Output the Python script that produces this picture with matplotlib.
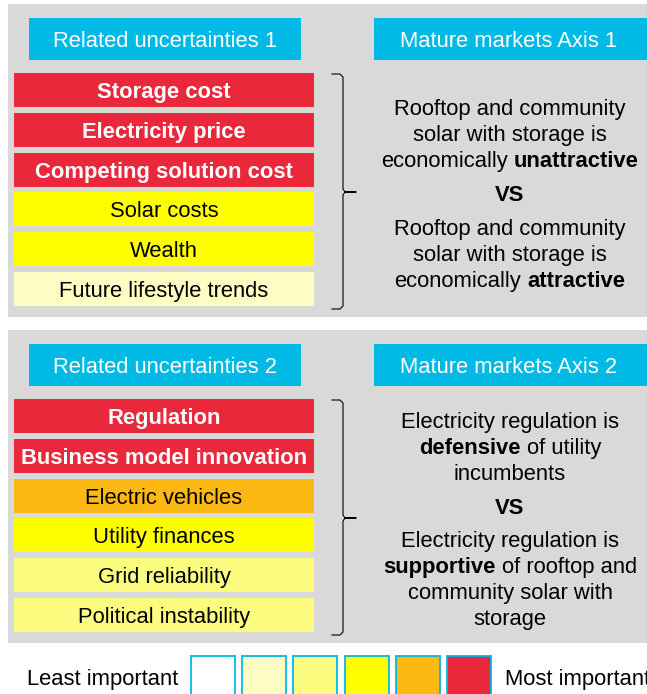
import matplotlib.pyplot as plt
from matplotlib.patches import Rectangle

plt.rcParams['font.family'] = ['Liberation Sans', 'DejaVu Sans']

W, H = 647, 694
FS = 15.8

# importance scale, least -> most
level_colors = ['#FFFFFF', '#FCFCC3', '#FCFC80', '#FFFF00', '#FDB913', '#E9283B']

left_headers = ['Related uncertainties 1', 'Related uncertainties 2']
right_headers = ['Mature markets Axis 1', 'Mature markets Axis 2']

uncert_1 = ['Storage cost', 'Electricity price', 'Competing solution cost',
            'Solar costs', 'Wealth', 'Future lifestyle trends']
importance_1 = [5, 5, 5, 3, 3, 1]

uncert_2 = ['Regulation', 'Business model innovation', 'Electric vehicles',
            'Utility finances', 'Grid reliability', 'Political instability']
importance_2 = [5, 5, 4, 3, 2, 2]

# each line = list of (text, bold) parts, a space goes between parts
axis_1_top = [[('Rooftop and community', False)],
              [('solar with storage is', False)],
              [('economically', False), ('unattractive', True)]]
axis_1_bottom = [[('Rooftop and community', False)],
                 [('solar with storage is', False)],
                 [('economically', False), ('attractive', True)]]
axis_2_top = [[('Electricity regulation is', False)],
              [('defensive', True), ('of utility', False)],
              [('incumbents', False)]]
axis_2_bottom = [[('Electricity regulation is', False)],
                 [('supportive', True), ('of rooftop and', False)],
                 [('community solar with', False)],
                 [('storage', False)]]

panels = [(uncert_1, importance_1, axis_1_top, axis_1_bottom),
          (uncert_2, importance_2, axis_2_top, axis_2_bottom)]
panel_tops = [4, 330]

fig = plt.figure(figsize=(W / 100, H / 100), dpi=100)
ax = fig.add_axes([0, 0, 1, 1])
ax.set_xlim(0, W)
ax.set_ylim(H, 0)
ax.axis('off')
renderer = fig.canvas.get_renderer()
space_w = FS / 72 * 100 * 0.278


def draw_line(xc, yb, parts):
    texts = [ax.text(0, yb, s, fontsize=FS, va='baseline', ha='left',
                     fontweight='bold' if b else 'normal') for s, b in parts]
    widths = [t.get_window_extent(renderer).width for t in texts]
    total = sum(widths) + space_w * (len(parts) - 1)
    x = xc - total / 2
    for t, w in zip(texts, widths):
        t.set_x(x)
        x += w + space_w


for k, (labels, levels, top_lines, bot_lines) in enumerate(panels):
    y0 = panel_tops[k]
    ax.add_patch(Rectangle((8, y0), W, 313, color='#D9D9D9', lw=0))
    # headers
    ax.add_patch(Rectangle((29, y0 + 14), 272, 42, color='#00B9E4', lw=0))
    ax.text(165, y0 + 43, left_headers[k], color='white', fontsize=FS,
            ha='center', va='baseline')
    ax.add_patch(Rectangle((374, y0 + 14), W, 42, color='#00B9E4', lw=0))
    ax.text(509, y0 + 43, right_headers[k], color='white', fontsize=FS,
            ha='center', va='baseline')
    # uncertainty bars
    for i, (lab, lv) in enumerate(zip(labels, levels)):
        yt = y0 + 69 + 39.8 * i
        ax.add_patch(Rectangle((14, yt), 300, 34, color=level_colors[lv], lw=0))
        top = lv == 5
        ax.text(164, yt + 25, lab, fontsize=FS, ha='center', va='baseline',
                color='white' if top else 'black',
                fontweight='bold' if top else 'normal')
    # bracket
    bt, bb, tip = y0 + 70, y0 + 305, y0 + 188
    ax.plot([332, 340, 343, 343, 345, 356, 345, 343, 343, 340, 332],
            [bt, bt, bt + 3, tip - 3, tip, tip, tip, tip + 3, bb - 3, bb, bb],
            color='black', lw=0.8)
    # scenario text
    n = len(top_lines) + len(bot_lines)
    span = 26 * (n - 2) + 34 * 2
    yc = y0 + 188.5 - span / 2
    for parts in top_lines:
        draw_line(510, yc + 8, parts)
        yc += 26
    yc += 34 - 26
    ax.text(510, yc + 8, 'VS', fontsize=FS, fontweight='bold',
            ha='center', va='baseline')
    yc += 34
    for parts in bot_lines:
        draw_line(510, yc + 8, parts)
        yc += 26

# legend
ax.text(178, 685, 'Least important', fontsize=FS, ha='right', va='baseline')
for i, c in enumerate(level_colors):
    ax.add_patch(Rectangle((191 + 51.2 * i, 656), 44, 50, facecolor=c,
                           edgecolor='#00B9E4', lw=1.3))
ax.text(505, 685, 'Most important', fontsize=FS, ha='left', va='baseline')

fig.savefig('out.png', dpi=100)
